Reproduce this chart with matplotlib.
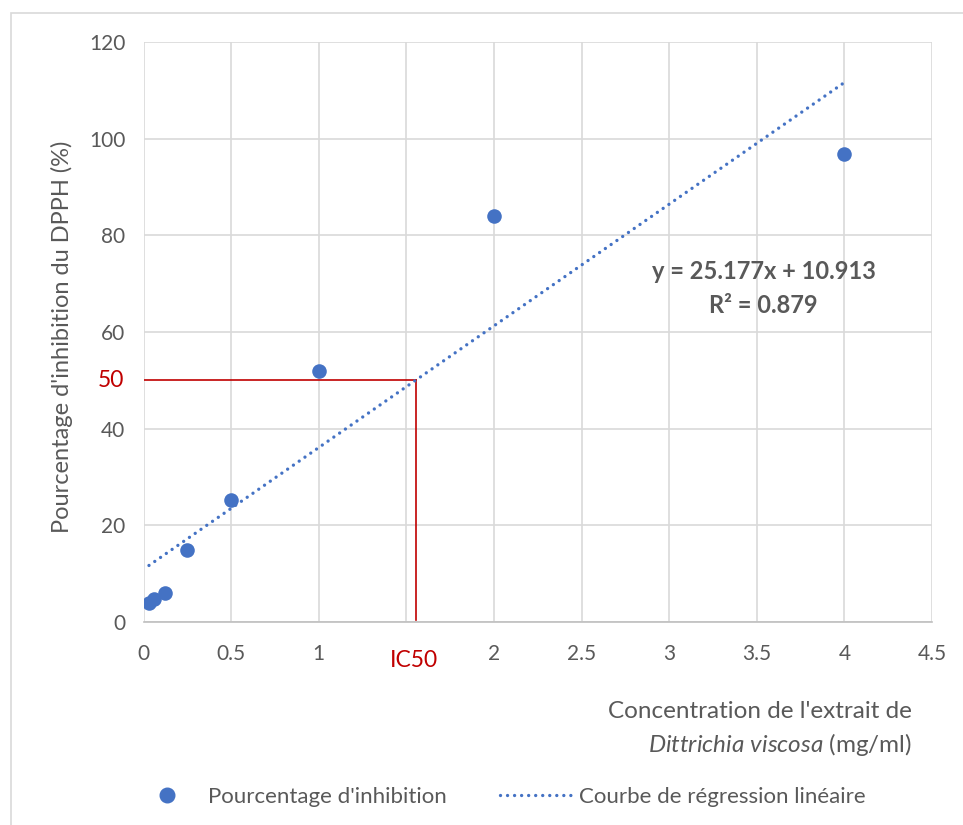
import matplotlib
matplotlib.use("Agg")
import matplotlib.pyplot as plt
from matplotlib.lines import Line2D
from matplotlib.patches import Rectangle
import numpy as np

# data
conc = [0.03125, 0.0625, 0.125, 0.25, 0.5, 1, 2, 4]          # mg/ml
inhibition = [4.0, 4.7, 6.1, 15.0, 25.2, 52.0, 84.0, 96.8]   # %
slope, intercept, r2 = 25.177, 10.913, 0.879                 # trendline shown on the chart
x_ticks = [0, 0.5, 1, 1.5, 2, 2.5, 3, 3.5, 4, 4.5]
x_tick_labels = ['0', '0.5', '1', '', '2', '2.5', '3', '3.5', '4', '4.5']
y_ticks = [0, 20, 40, 60, 80, 100, 120]

plt.rcParams['font.family'] = ['Lato', 'DejaVu Sans']
plt.rcParams['mathtext.fontset'] = 'custom'
plt.rcParams['mathtext.rm'] = 'Lato'
plt.rcParams['mathtext.it'] = 'Lato:italic'

blue = '#4472C4'
red = '#C00000'
grey_txt = '#595959'
grid_col = '#D9D9D9'

fig = plt.figure(figsize=(9.63, 8.25), dpi=100)
ax = fig.add_axes([143.5 / 963, 1 - 622 / 825, (932 - 143.5) / 963, (622 - 42) / 825])

# trendline from the chart equation
xs = np.array([min(conc), max(conc)])
ax.plot(xs, slope * xs + intercept, color=blue, lw=2.4,
        linestyle=(0, (0.01, 2.1)), dash_capstyle='round', zorder=3)
ax.scatter(conc, inhibition, s=110, color=blue, zorder=4, linewidths=0)

# IC50 guide lines
ic50 = (50 - intercept) / slope
ax.plot([0, ic50], [50, 50], color=red, lw=1.2, zorder=2)
ax.plot([ic50, ic50], [50, 0.4], color=red, lw=1.2, zorder=2)

ax.set_xlim(0, 4.5)
ax.set_ylim(0, 120)
ax.set_xticks(x_ticks)
ax.set_xticklabels(x_tick_labels)
ax.set_yticks(y_ticks)
ax.tick_params(length=0, labelsize=15, colors=grey_txt, pad=13)
ax.tick_params(axis='x', pad=16)
ax.grid(True, color=grid_col, lw=1.2)
ax.set_axisbelow(True)
for s in ['top', 'right', 'left']:
    ax.spines[s].set_visible(False)
ax.spines['bottom'].set_color('#BFBFBF')
ax.spines['bottom'].set_linewidth(1.2)

ax.text(ic50 - 0.01, -8, 'IC50', color=red, fontsize=16.5, ha='center', va='center')
ax.text(-0.11, 50, '50', color=red, fontsize=16.5, ha='right', va='center')

ax.text(3.54, 69, f'y = {slope}x + {intercept}\nR² = {r2}', fontsize=17,
        fontweight='bold', color=grey_txt, ha='center', va='center', linespacing=1.55)

fig.text(62 / 963, 1 - 337 / 825, "Pourcentage d'inhibition du DPPH (%)", rotation=90,
         fontsize=17, color=grey_txt, ha='center', va='center')
fig.text(912 / 963, 1 - 712 / 825, "Concentration de l'extrait de", fontsize=17.5,
         color=grey_txt, ha='right', va='center')
fig.text(912 / 963, 1 - 745 / 825, r"$\mathit{Dittrichia\ viscosa}$ (mg/ml)", fontsize=17.5,
         color=grey_txt, ha='right', va='center')

handles = [
    Line2D([], [], marker='o', color=blue, linestyle='none', markersize=10.5),
    Line2D([], [], color=blue, lw=2.4, linestyle=(0, (0.01, 2.1)), dash_capstyle='round'),
]
fig.legend(handles, ["Pourcentage d'inhibition", "Courbe de régression linéaire"],
           loc='center', bbox_to_anchor=(0.5165, 1 - 797 / 825), ncol=2, frameon=False,
           fontsize=16, handlelength=3.4, handletextpad=0.15, columnspacing=2.4,
           labelcolor=grey_txt)

fig.patches.append(Rectangle((11 / 963, -0.1), 1.2, 1 - 13 / 825 + 0.1, transform=fig.transFigure,
                             fill=False, edgecolor='#D9D9D9', lw=1.2))

fig.savefig('out.png', dpi=100)
